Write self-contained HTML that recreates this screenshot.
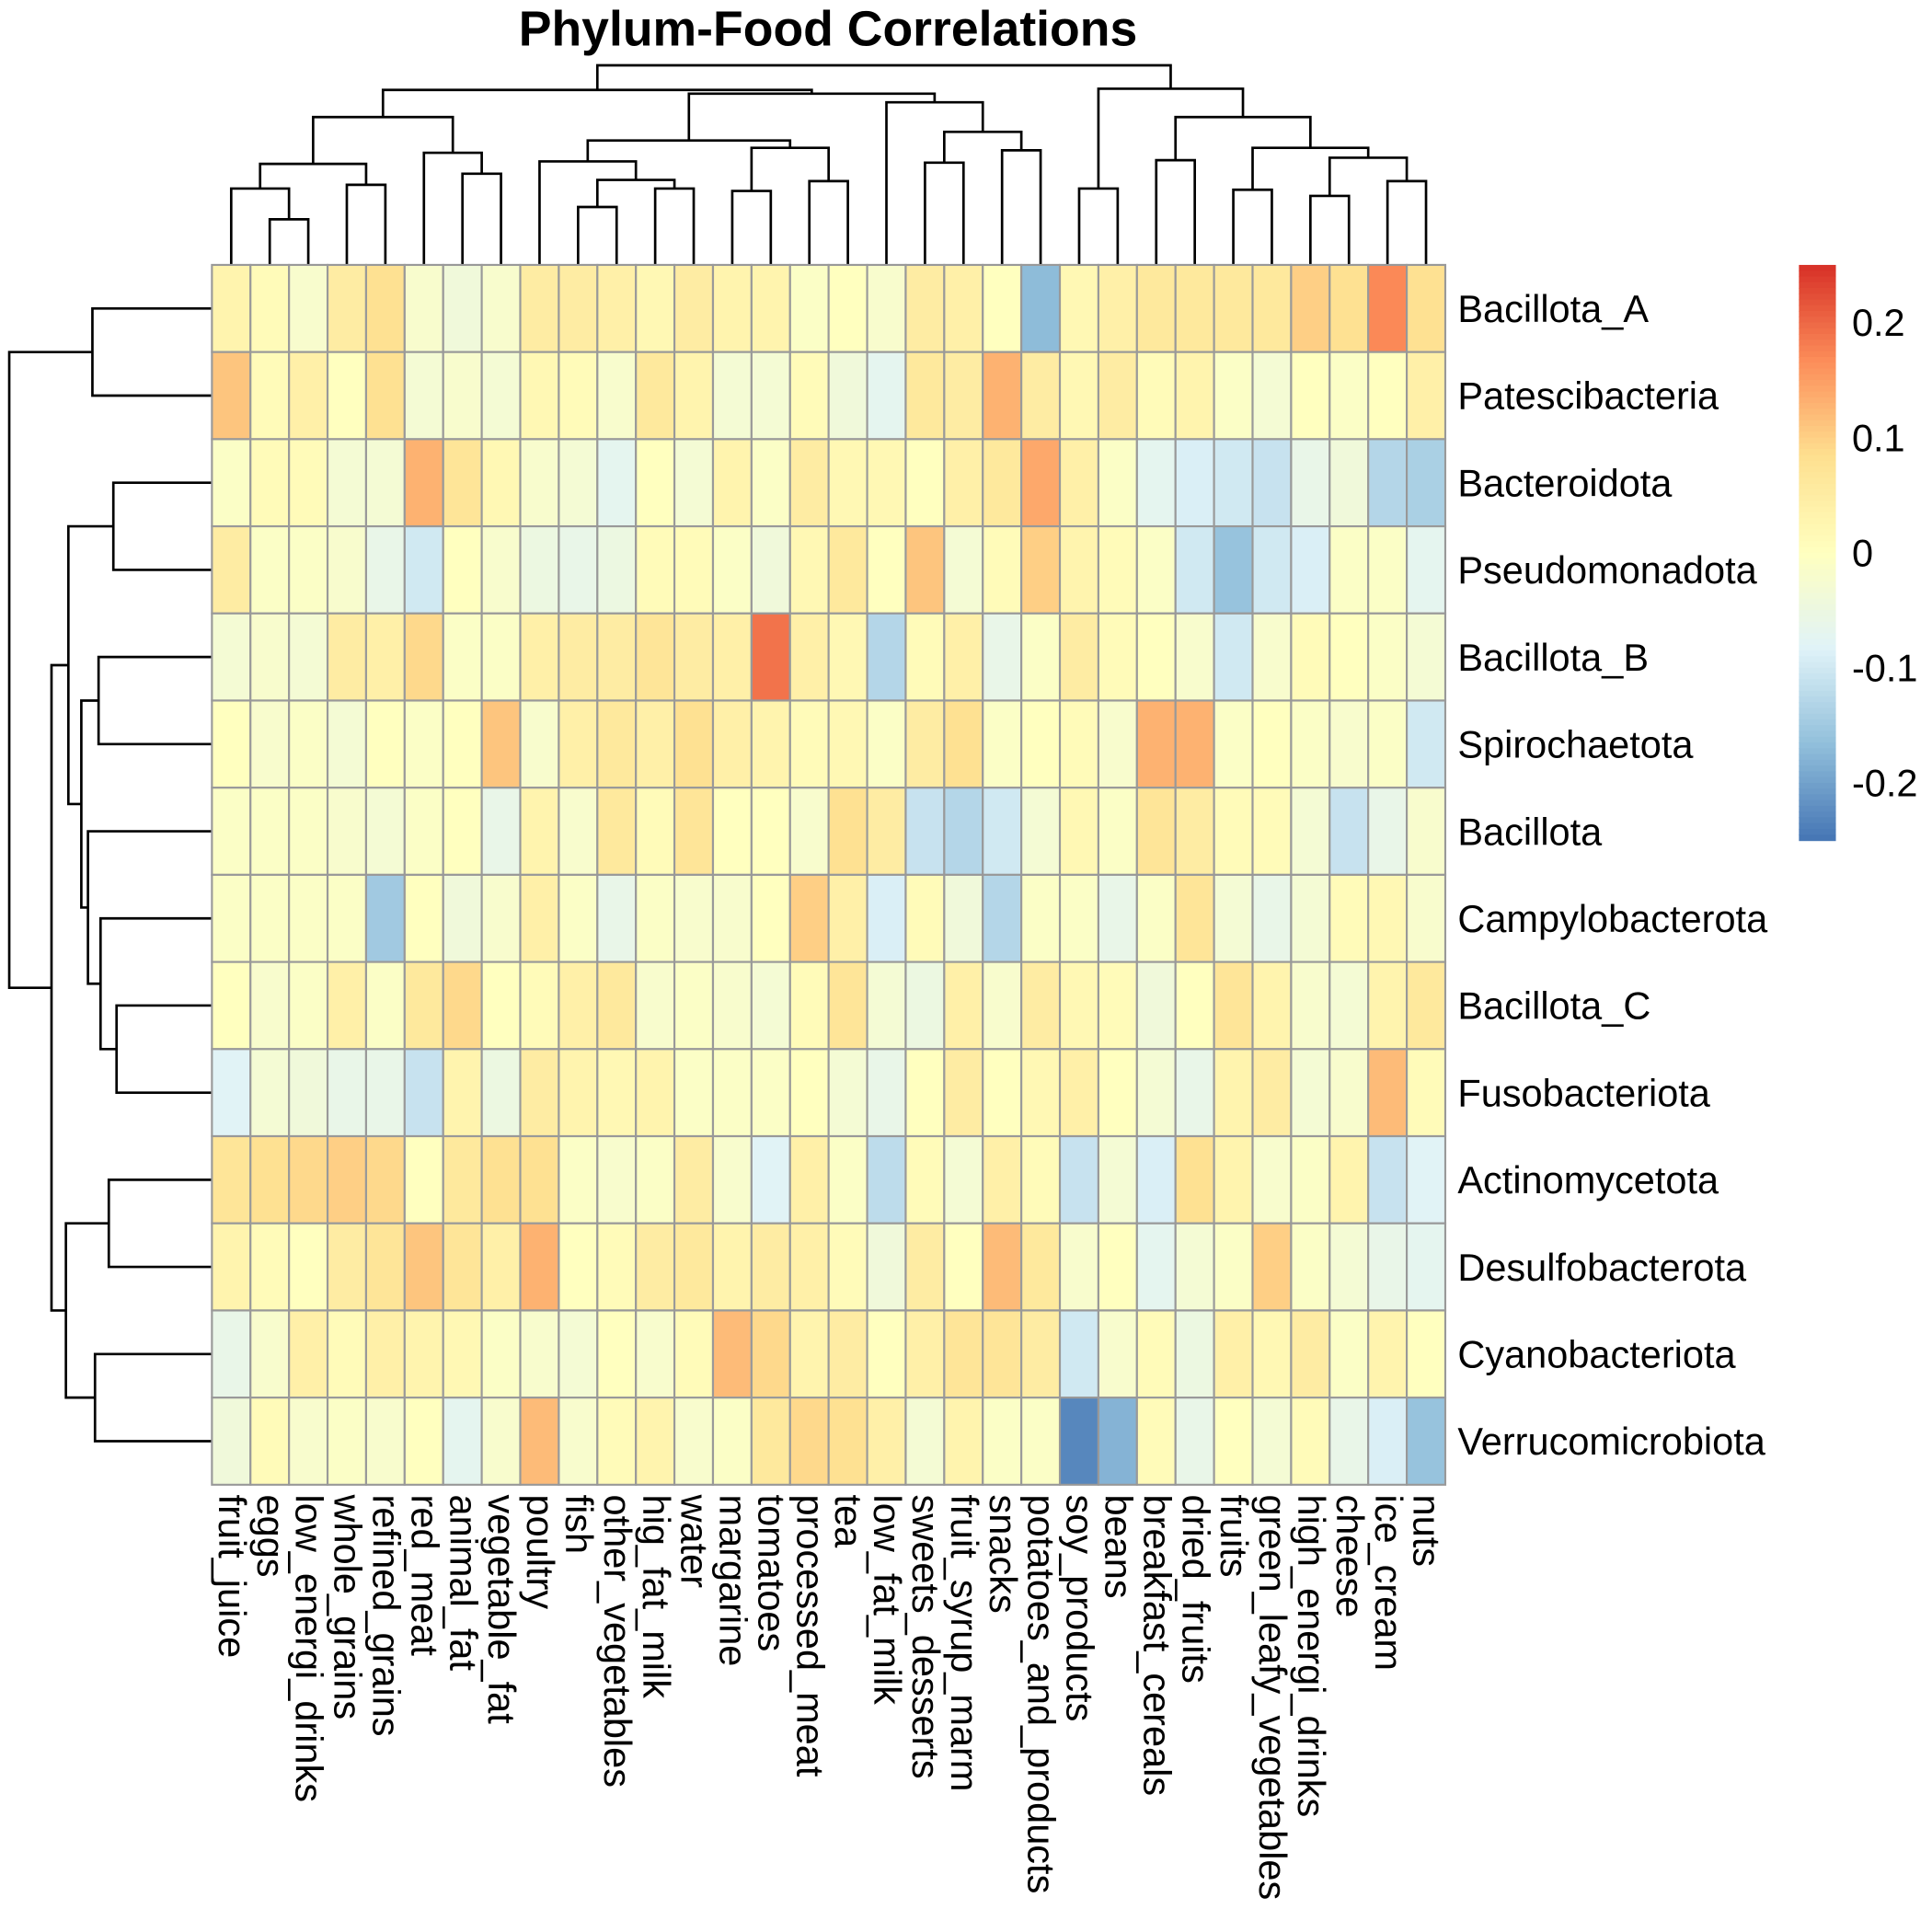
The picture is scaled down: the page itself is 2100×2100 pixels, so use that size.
<!DOCTYPE html>
<html><head><meta charset="utf-8"><style>
html,body{margin:0;padding:0;background:#fff;}
svg{display:block;font-family:"Liberation Sans",Arial,sans-serif;}
</style></head><body>
<svg id="chart" width="2100" height="2100" viewBox="0 0 1568 1568" xmlns="http://www.w3.org/2000/svg">
<text x="672" y="37" font-size="40" font-weight="bold" text-anchor="middle">Phylum-Food Correlations</text>
<g id="coldend" fill="none" stroke="#000" stroke-width="2"></g>
<g id="rowdend" fill="none" stroke="#000" stroke-width="2"></g>
<g id="cells"></g>
<g id="rowlabels"></g>
<g id="collabels"></g>
<g id="legend"></g>
</svg>
<script>
const rows = ["Bacillota_A","Patescibacteria","Bacteroidota","Pseudomonadota","Bacillota_B","Spirochaetota","Bacillota","Campylobacterota","Bacillota_C","Fusobacteriota","Actinomycetota","Desulfobacterota","Cyanobacteriota","Verrucomicrobiota"];
const cols = ["fruit_juice","eggs","low_energi_drinks","whole_grains","refined_grains","red_meat","animal_fat","vegetable_fat","poultry","fish","other_vegetables","hig_fat_milk","water","margarine","tomatoes","processed_meat","tea","low_fat_milk","sweets_desserts","fruit_syrup_marm","snacks","potatoes_and_products","soy_products","beans","breakfast_cereals","dried_fruits","fruits","green_leafy_vegetables","high_energi_drinks","cheese","ice_cream","nuts"];
const vBacillotaA = [0.03,0.01,-0.02,0.05,0.08,-0.02,-0.04,-0.02,0.05,0.05,0.04,0.02,0.05,0.03,0.03,-0.01,0.0,-0.02,0.05,0.04,0.0,-0.17,0.02,0.04,0.06,0.06,0.06,0.06,0.1,0.08,0.17,0.08];
const vPatesci = [0.11,0.01,0.04,0.0,0.08,-0.03,-0.02,-0.03,0.02,0.01,-0.02,0.06,0.03,-0.03,-0.03,0.01,-0.04,-0.07,0.06,0.05,0.13,0.05,0.02,0.05,0.01,0.03,-0.01,-0.03,0.0,-0.01,0.0,0.04];
const vBacteroidota = [-0.01,0.01,0.01,-0.03,-0.03,0.13,0.07,0.02,-0.02,-0.03,-0.07,0.0,-0.03,0.03,-0.01,0.05,0.02,0.02,0.0,0.04,0.06,0.14,0.04,-0.01,-0.07,-0.09,-0.1,-0.11,-0.06,-0.04,-0.13,-0.14];
const vPseudo = [0.05,-0.01,-0.01,-0.02,-0.06,-0.1,0.0,-0.02,-0.05,-0.06,-0.05,0.01,0.01,-0.01,-0.04,0.02,0.06,0.0,0.11,-0.03,0.01,0.1,0.03,0.01,-0.01,-0.1,-0.16,-0.1,-0.09,-0.01,-0.01,-0.07];
const vBacillotaB = [-0.03,-0.02,-0.03,0.05,0.04,0.09,-0.01,-0.01,0.04,0.05,0.05,0.07,0.05,0.04,0.19,0.04,0.02,-0.13,0.01,0.04,-0.06,-0.01,0.05,0.01,0.0,-0.02,-0.1,-0.02,0.01,0.0,-0.01,-0.03];
const vSpiro = [0.0,-0.02,-0.01,-0.03,0.0,-0.01,0.0,0.11,-0.02,0.04,0.06,0.04,0.08,0.04,0.03,0.01,0.02,-0.01,0.05,0.08,-0.01,0.0,0.01,-0.02,0.13,0.13,-0.01,0.0,-0.01,-0.02,-0.01,-0.1];
const vBacillota = [-0.01,-0.01,-0.01,-0.02,-0.03,-0.01,0.0,-0.06,0.03,-0.02,0.06,0.01,0.07,0.0,0.0,-0.02,0.08,0.05,-0.11,-0.13,-0.1,-0.03,0.02,-0.01,0.07,0.05,0.01,0.01,-0.03,-0.11,-0.06,-0.02];
const vCampylo = [-0.01,-0.01,-0.01,-0.01,-0.15,0.0,-0.04,-0.02,0.04,-0.01,-0.06,-0.01,-0.02,-0.02,0.0,0.1,0.04,-0.09,0.01,-0.04,-0.13,-0.01,-0.01,-0.06,-0.01,0.07,-0.03,-0.06,-0.03,0.01,0.02,-0.02];
const vBacillotaC = [0.0,-0.02,-0.01,0.04,-0.01,0.06,0.09,0.0,0.01,0.04,0.06,-0.02,-0.01,-0.02,-0.03,0.01,0.07,-0.03,-0.05,0.04,-0.02,0.05,0.02,0.01,-0.04,0.0,0.07,0.03,-0.02,-0.03,0.03,0.06];
const vFuso = [-0.08,-0.03,-0.04,-0.06,-0.06,-0.11,0.03,-0.05,0.05,0.03,0.02,0.03,-0.01,-0.01,-0.01,0.0,-0.03,-0.06,0.0,0.05,0.0,0.02,0.04,0.0,-0.03,-0.06,0.03,0.05,-0.03,-0.02,0.12,0.01];
const vActino = [0.07,0.08,0.09,0.1,0.09,0.0,0.06,0.08,0.08,-0.01,-0.02,-0.01,0.05,-0.02,-0.08,0.04,-0.01,-0.12,0.01,-0.03,0.04,0.01,-0.11,-0.03,-0.09,0.08,0.03,-0.02,-0.01,0.03,-0.11,-0.08];
const vDesulfo = [0.03,0.01,0.0,0.05,0.07,0.11,0.07,0.04,0.13,0.0,0.01,0.05,0.06,0.03,0.05,0.04,0.01,-0.04,0.05,0.0,0.12,0.06,-0.02,0.0,-0.07,-0.03,-0.01,0.1,-0.01,-0.03,-0.06,-0.07];
const vCyano = [-0.06,-0.02,0.04,0.01,0.04,0.03,0.02,-0.01,-0.02,-0.03,0.0,-0.02,0.01,0.12,0.09,0.03,0.05,0.0,0.04,0.07,0.07,0.05,-0.1,-0.02,0.01,-0.05,0.04,0.02,0.05,-0.01,0.03,0.0];
const vVerruco = [-0.04,0.01,-0.02,-0.01,-0.02,0.0,-0.07,-0.02,0.12,-0.02,0.01,0.03,-0.02,-0.01,0.06,0.09,0.08,0.04,-0.03,0.03,-0.01,-0.01,-0.23,-0.18,0.01,-0.06,0.0,-0.03,0.01,-0.06,-0.09,-0.16];
const values = [vBacillotaA,vPatesci,vBacteroidota,vPseudo,vBacillotaB,vSpiro,vBacillota,vCampylo,vBacillotaC,vFuso,vActino,vDesulfo,vCyano,vVerruco];
const legendTicks = [0.2,0.1,0,-0.1,-0.2];
const legendTickLabels = ["0.2","0.1","0","-0.1","-0.2"];

const NS="http://www.w3.org/2000/svg";
const X0=172,X1=1173,Y0=215,Y1=1205;
const cw=(X1-X0)/cols.length, ch=(Y1-Y0)/rows.length;
const vmin=-0.25,vmax=0.25;
const stops=["#4575B4","#91BFDB","#E0F3F8","#FFFFBF","#FEE090","#FC8D59","#D73027"];
function hex(h){return [1,3,5].map(i=>parseInt(h.substr(i,2),16));}
function color(v){
  let t=(v-vmin)/(vmax-vmin); t=Math.max(0,Math.min(1,t));
  const p=t*(stops.length-1); const i=Math.min(stops.length-2,Math.floor(p)); const f=p-i;
  const a=hex(stops[i]), b=hex(stops[i+1]);
  return "rgb("+a.map((c,k)=>Math.round(c+(b[k]-c)*f)).join(",")+")";
}
const xc=i=>X0+cw*(i+0.5), yc=j=>Y0+ch*(j+0.5);
function mk(tag,attrs,parent){const e=document.createElementNS(NS,tag);for(const k in attrs)e.setAttribute(k,attrs[k]);parent.appendChild(e);return e;}

const cells=document.getElementById("cells");
values.forEach((row,j)=>row.forEach((v,i)=>{
  const r=mk("rect",{x:X0+cw*i,y:Y0+ch*j,width:cw,height:ch,fill:color(v),stroke:"#999",'stroke-width':1.6},cells);
  
  
}));
const rl=document.getElementById("rowlabels");
rows.forEach((n,j)=>{
  const t=mk("text",{x:1183,y:yc(j)+11,'font-size':31},rl);t.textContent=n;
  
  
});
const cl=document.getElementById("collabels");
cols.forEach((n,i)=>{
  const x=xc(i)-10,y=1213;
  const t=mk("text",{x:x,y:y,'font-size':31,transform:"rotate(90 "+x+" "+y+")"},cl);t.textContent=n;
  
  
});
function seg(g,d){const p=mk("path",{d:d},g);}
function link(g,xa,ya,xb,yb,h){seg(g,"M"+xa+" "+ya+"V"+h+"H"+xb+"V"+yb);return (xa+xb)/2;}
const cd=document.getElementById("coldend");
const B=Y0;
let n1=link(cd,xc(1),B,xc(2),B,178);
let n2=link(cd,xc(0),B,n1,178,153);
let n3=link(cd,xc(3),B,xc(4),B,150);
let n4=link(cd,n2,153,n3,150,133);
let n5=link(cd,xc(6),B,xc(7),B,141);
let n6=link(cd,xc(5),B,n5,141,124);
let n7=link(cd,n4,133,n6,124,95);
let n8=link(cd,xc(9),B,xc(10),B,168);
let n9=link(cd,xc(11),B,xc(12),B,153);
let n10=link(cd,n8,168,n9,153,146);
let n11=link(cd,xc(8),B,n10,146,131);
let n12=link(cd,xc(13),B,xc(14),B,155);
let n13=link(cd,xc(15),B,xc(16),B,147);
let n14=link(cd,n12,155,n13,147,120);
let n15=link(cd,n11,131,n14,120,114);
let n16=link(cd,xc(18),B,xc(19),B,132);
let n17=link(cd,xc(20),B,xc(21),B,122);
let n18=link(cd,n16,132,n17,122,107);
let n19=link(cd,xc(17),B,n18,107,83);
let n20=link(cd,n15,114,n19,83,76);
let n21=link(cd,n7,95,n20,76,73);
let m1=link(cd,xc(22),B,xc(23),B,153);
let m2=link(cd,xc(24),B,xc(25),B,130);
let m3=link(cd,xc(26),B,xc(27),B,154);
let m4=link(cd,xc(28),B,xc(29),B,159);
let m5=link(cd,xc(30),B,xc(31),B,147);
let m6=link(cd,m4,159,m5,147,128);
let m7=link(cd,m3,154,m6,128,120);
let m8=link(cd,m2,130,m7,120,95);
let m9=link(cd,m1,153,m8,95,72);
link(cd,n21,73,m9,72,53);
const rd=document.getElementById("rowdend");
function rlink(ya,xa,yb,xb,w){seg(rd,"M"+xa+" "+ya+"H"+w+"V"+yb+"H"+xb);return (ya+yb)/2;}
const R=X0;
let r1=rlink(yc(0),R,yc(1),R,75);
let r2=rlink(yc(2),R,yc(3),R,92);
let r3=rlink(yc(4),R,yc(5),R,80);
let r4=rlink(yc(8),R,yc(9),R,94.6);
let r5=rlink(yc(7),R,r4,94.6,81.6);
let r6=rlink(yc(6),R,r5,81.6,71.4);
let r7=rlink(r3,80,r6,71.4,66);
let r8=rlink(r2,92,r7,66,55.5);
let r9=rlink(yc(10),R,yc(11),R,88.3);
let r10=rlink(yc(12),R,yc(13),R,77.1);
let r11=rlink(r9,88.3,r10,77.1,53.5);
let r12=rlink(r8,55.5,r11,53.5,41.8);
rlink(r1,75,r12,41.8,7.5);
const lg=document.getElementById("legend");
const LX=1460,LW=30,LT=215,LB=682;
const N=100;
for(let k=0;k<N;k++){
  const v=vmax-(vmax-vmin)*(k+0.5)/N;
  const r=mk("rect",{x:LX,y:LT+(LB-LT)*k/N,width:LW,height:(LB-LT)/N+0.6,fill:color(v)},lg);
  
  
}
legendTicks.forEach((v,k)=>{
  const y=LT+(vmax-v)/(vmax-vmin)*(LB-LT);
  const t=mk("text",{x:1503,y:y+11,'font-size':31},lg);t.textContent=legendTickLabels[k];
  
  
});
</script>
</body></html>
